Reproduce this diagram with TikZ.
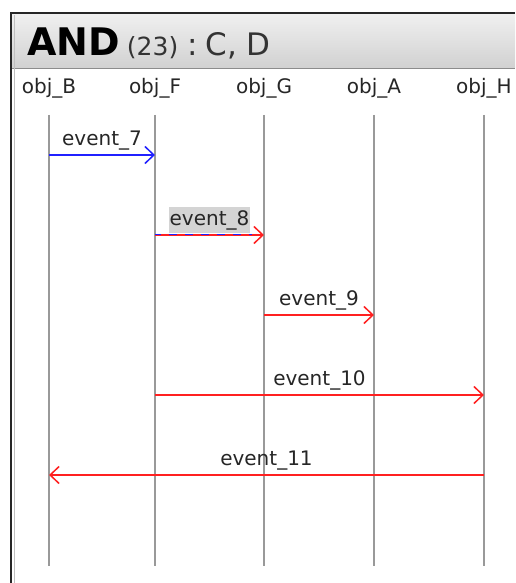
\documentclass[tikz,border=0pt]{standalone}
\usepackage{fontspec}
\setmainfont{DejaVu Sans}
\usetikzlibrary{arrows.meta}
\definecolor{lifegray}{HTML}{999999}
\definecolor{msgred}{HTML}{FF2020}
\definecolor{msgblue}{HTML}{2020FF}
\definecolor{hltgray}{HTML}{D4D4D4}
\tikzset{
  lifeline/.style={draw=lifegray, line width=1.6pt},
  objlabel/.style={font=\fontsize{20}{20}\selectfont, text=black!85, inner sep=0pt, anchor=base},
  evlabel/.style={font=\fontsize{20}{20}\selectfont, text=black!85, inner sep=0pt, anchor=base},
  msg/.style={line width=1.5pt, -{Straight Barb[length=9pt,width=17pt,line width=1.5pt]}},
}
\begin{document}
\begin{tikzpicture}[x=1pt,y=-1pt]
\useasboundingbox (0,0) rectangle (515,583);
% window frame
\shade[top color=white!94!black, bottom color=black!18] (12,14) rectangle (515,68);
\draw[black!45, line width=1pt] (12,68.5) -- (515,68.5);
\draw[black!85, line width=2pt] (11,583) -- (11,13) -- (515,13);
\draw[black!25, line width=1pt] (14,583) -- (14,15);
% title
\node[inner sep=0pt, anchor=base west] (title) at (27,56)
  {\fontsize{38}{38}\selectfont\bfseries AND\hspace{7pt}\fontsize{25}{25}\selectfont\mdseries\textcolor{black!80}{(23)}\hspace{9pt}\fontsize{31}{31}\selectfont\textcolor{black!80}{:\hspace{8pt}C,\hspace{9pt}D}};
% object labels
\node[objlabel] (lB) at (49,94) {obj\_B};
\node[objlabel] (lF) at (155,94) {obj\_F};
\node[objlabel] (lG) at (264,94) {obj\_G};
\node[objlabel] (lA) at (374,94) {obj\_A};
\node[objlabel] (lH) at (484,94) {obj\_H};
% lifelines
\foreach \n/\x in {B/49,F/155,G/264,A/374,H/484}{
  \coordinate (t\n) at (\x,115);
  \coordinate (b\n) at (\x,566);
  \draw[lifeline] (t\n) -- (b\n);
}
% anchor points of messages
\coordinate (m7s) at (49,155);  \coordinate (m7e) at (155,155);
\coordinate (m8s) at (155,235); \coordinate (m8e) at (264,235);
\coordinate (m9s) at (264,315); \coordinate (m9e) at (374,315);
\coordinate (m10s) at (155,395); \coordinate (m10e) at (484,395);
\coordinate (m11s) at (484,475); \coordinate (m11e) at (49,475);
% event_7
\draw[msg, msgblue] (m7s) -- (m7e);
\node[evlabel] (e7) at (102,145) {event\_7};
% event_8
\node[evlabel, fill=hltgray, inner xsep=1pt, inner ysep=3pt] (e8) at (209.5,225) {event\_8};
\draw[msg, msgred] (m8s) -- (m8e);
\draw[msgblue, line width=1.5pt, dash pattern=on 8pt off 8pt, dash phase=-14pt] ([yshift=0.6pt]m8s) -- ([xshift=-12pt,yshift=0.6pt]m8e);
% event_9
\draw[msg, msgred] (m9s) -- (m9e);
\node[evlabel] (e9) at (319,305) {event\_9};
% event_10
\draw[msg, msgred] (m10s) -- (m10e);
\node[evlabel] (e10) at (319.5,385) {event\_10};
% event_11
\draw[msg, msgred] (m11s) -- (m11e);
\node[evlabel] (e11) at (266.5,465) {event\_11};
\end{tikzpicture}
\end{document}
